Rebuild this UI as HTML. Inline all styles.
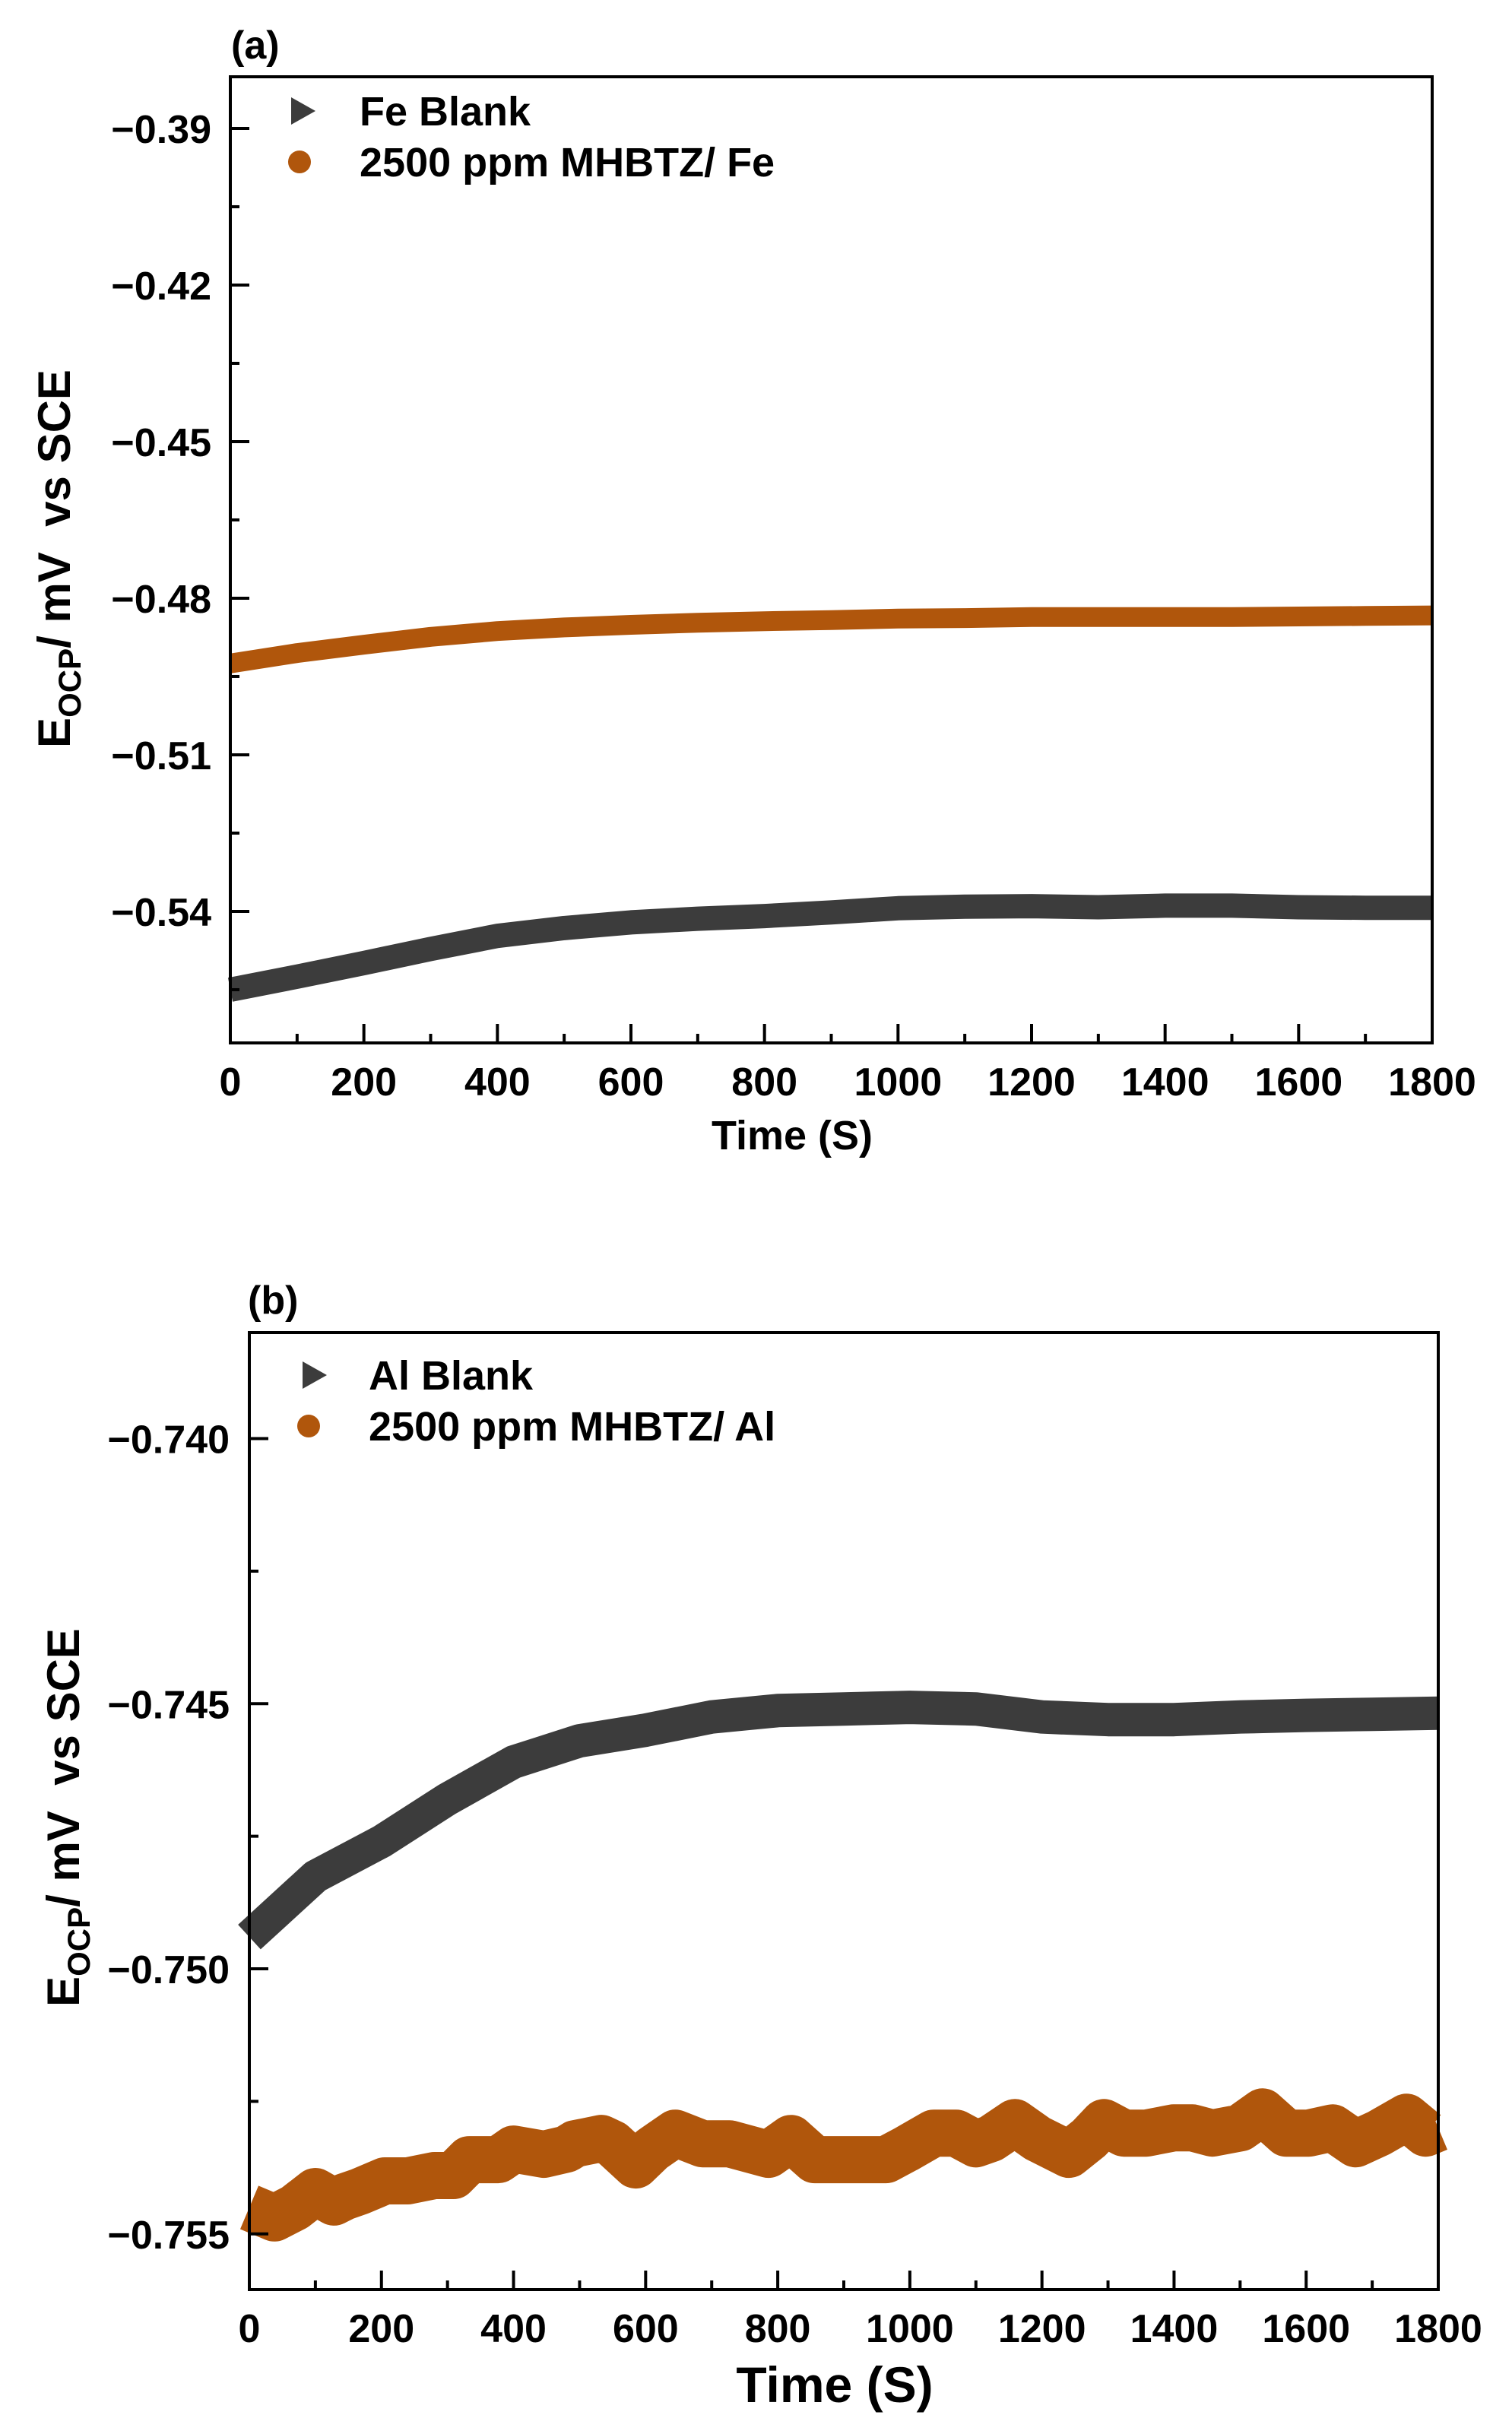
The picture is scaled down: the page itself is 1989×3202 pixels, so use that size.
<!DOCTYPE html>
<html><head><meta charset="utf-8">
<style>
html,body{margin:0;padding:0;background:#fff;}
svg{display:block;font-family:"Liberation Sans",Arial,sans-serif;font-weight:bold;}
</style></head>
<body>
<svg id="chart" width="1989" height="3202" viewBox="0 0 1989 3202" xmlns="http://www.w3.org/2000/svg">
<g id="panelA"></g>
<g id="panelB"></g>
</svg>
<script>
// ---- Panel (a) data ----
const aTimes = [0,100,200,300,400,500,600,700,800,900,1000,1100,1200,1300,1400,1500,1600,1700,1800];
const aFeBlank = [-0.5550,-0.5525,-0.5499,-0.5472,-0.5447,-0.5432,-0.5421,-0.5414,-0.5409,-0.5402,-0.5394,-0.5391,-0.5390,-0.5392,-0.5389,-0.5389,-0.5392,-0.5393,-0.5393];
const aFeInhib = [-0.4925,-0.4905,-0.4889,-0.4874,-0.4863,-0.4856,-0.4851,-0.4847,-0.4844,-0.4842,-0.4839,-0.4838,-0.4836,-0.4836,-0.4836,-0.4836,-0.4835,-0.4834,-0.4833];
const aYTicks = [-0.39,-0.42,-0.45,-0.48,-0.51,-0.54];
const aYLabels = ["\u22120.39","\u22120.42","\u22120.45","\u22120.48","\u22120.51","\u22120.54"];
const xTicks = [0,200,400,600,800,1000,1200,1400,1600,1800];
const xLabels = ["0","200","400","600","800","1000","1200","1400","1600","1800"];

// ---- Panel (b) data ----
const bTimes = [0,100,200,300,400,500,600,700,800,900,1000,1100,1200,1300,1400,1500,1600,1700,1800];
const bAlBlank = [-0.7494,-0.74826,-0.7476,-0.7468,-0.7461,-0.7457,-0.7455,-0.74525,-0.74513,-0.7451,-0.74507,-0.7451,-0.74525,-0.7453,-0.7453,-0.74525,-0.74522,-0.7452,-0.74518];
const bInhTimes = [0,38,69,100,128,144,167,205,240,280,309,333,377,400,446,480,493,533,550,585,610,645,686,727,786,820,856,888,924,964,994,1036,1070,1100,1123,1159,1193,1241,1271,1294,1324,1358,1399,1428,1458,1500,1534,1570,1604,1640,1675,1710,1752,1781,1800];
const bAlInhib = [-0.7545,-0.7547,-0.7545,-0.7542,-0.7544,-0.7543,-0.7542,-0.7540,-0.7540,-0.7539,-0.7539,-0.7536,-0.7536,-0.7534,-0.7535,-0.7534,-0.7533,-0.7532,-0.7533,-0.7537,-0.7534,-0.7531,-0.7533,-0.7533,-0.7535,-0.7532,-0.7536,-0.7536,-0.7536,-0.7536,-0.7534,-0.7531,-0.7531,-0.7533,-0.7532,-0.7529,-0.7532,-0.7535,-0.7532,-0.7529,-0.7531,-0.7531,-0.7530,-0.7530,-0.7531,-0.7530,-0.7527,-0.7531,-0.7531,-0.7530,-0.7533,-0.7531,-0.7528,-0.7531,-0.7530];
const bYTicks = [-0.740,-0.745,-0.750,-0.755];
const bYLabels = ["\u22120.740","\u22120.745","\u22120.750","\u22120.755"];

const NS = "http://www.w3.org/2000/svg";
function mk(tag, attrs, parent){
  const e = document.createElementNS(NS, tag);
  for (const k in attrs) e.setAttribute(k, attrs[k]);
  parent.appendChild(e);
  return e;
}

function drawPanel(g, cfg){
  const {L,R,T,B,ymin,ymax,yTicks,yLabels,yMinorStep,labelRight,tickFont,xLabelBase,xTitleBase,xTitleFont,xTitleX,yTitleX,yTitleY,series,legend,panelLabel} = cfg;
  const sx = t => L + (t - 0) / 1800 * (R - L);
  const sy = v => T + (ymax - v) / (ymax - ymin) * (B - T);

  series.forEach(s => {
    const pts = s.t.map((t,i) => sx(t).toFixed(1) + "," + sy(s.v[i]).toFixed(1)).join(" ");
    const pl = mk("polyline", {points: pts, fill: "none", stroke: s.color, "stroke-width": s.w, "stroke-linejoin": "round", "stroke-linecap": "butt"}, g);
    
    
  });

  const fr = mk("rect", {x: L, y: T, width: R - L, height: B - T, fill: "none", stroke: "#000", "stroke-width": 4}, g);
  
  

  for (let t = 0; t <= 1800; t += 100) {
    const major = t % 200 === 0;
    const tk = mk("line", {x1: sx(t), x2: sx(t), y1: B, y2: B - (major ? 25 : 12), stroke: "#000", "stroke-width": 4}, g);
    
    
  }
  xTicks.forEach((t,i) => {
    const tx = mk("text", {x: sx(t), y: xLabelBase, "text-anchor": "middle", "font-size": tickFont}, g);
    tx.textContent = xLabels[i];
    
    
  });
  const y0 = yTicks[yTicks.length - 1];
  for (let v = y0 - 4*yMinorStep; v <= ymax + 1e-9; v += yMinorStep) {
    if (v < ymin - 1e-9) continue;
    const k = Math.round((v - y0) / yMinorStep);
    const major = k % 2 === 0;
    const tk = mk("line", {x1: L, x2: L + (major ? 25 : 12), y1: sy(v), y2: sy(v), stroke: "#000", "stroke-width": 4}, g);
    
    
  }
  yTicks.forEach((v,i) => {
    const tx = mk("text", {x: labelRight, y: sy(v) + 19, "text-anchor": "end", "font-size": tickFont}, g);
    tx.textContent = yLabels[i];
    
    
  });

  const xt = mk("text", {x: xTitleX, y: xTitleBase, "text-anchor": "middle", "font-size": xTitleFont}, g);
  xt.textContent = "Time (S)";
  
  

  const yt = mk("text", {x: 0, y: 0, "text-anchor": "middle", "font-size": 60, transform: `translate(${yTitleX},${yTitleY}) rotate(-90)`}, g);
  
  
  const t1 = mk("tspan", {}, yt); t1.textContent = "E";
  const t2 = mk("tspan", {dy: 14, "font-size": 42}, yt); t2.textContent = "OCP";
  const t3 = mk("tspan", {dy: -14}, yt); t3.textContent = "/ mV\u00a0 vs SCE";

  const pl = mk("text", {x: panelLabel.x, y: panelLabel.y, "font-size": 52}, g);
  pl.textContent = panelLabel.text;
  
  

  legend.forEach((lg, i) => {
    const gi = mk("g", {}, g);
    
    
    if (lg.shape === "tri") {
      mk("polygon", {points: `${lg.mx-16},${lg.my-18} ${lg.mx+16},${lg.my} ${lg.mx-16},${lg.my+18}`, fill: lg.color}, gi);
    } else {
      mk("circle", {cx: lg.mx, cy: lg.my, r: 15, fill: lg.color}, gi);
    }
    const tx = mk("text", {x: lg.tx, y: lg.my + 19, "font-size": 54}, gi);
    tx.textContent = lg.text;
  });
}

drawPanel(document.getElementById("panelA"), {
  L: 303, R: 1884, T: 101, B: 1372, ymin: -0.5652, ymax: -0.3801,
  yTicks: aYTicks, yLabels: aYLabels, yMinorStep: 0.015, labelRight: 278, tickFont: 52,
  xLabelBase: 1441, xTitleBase: 1512, xTitleFont: 54, xTitleX: 1042,
  yTitleX: 92, yTitleY: 735,
  series: [
    {t: aTimes, v: aFeBlank, color: "#3c3c3c", w: 32, name: "fe-blank-series"},
    {t: aTimes, v: aFeInhib, color: "#b0560c", w: 26, name: "mhbtz-fe-series"}
  ],
  legend: [
    {shape: "tri", mx: 399, my: 146, color: "#3c3c3c", tx: 473, text: "Fe Blank"},
    {shape: "circ", mx: 394, my: 213, color: "#b0560c", tx: 473, text: "2500 ppm MHBTZ/ Fe"}
  ],
  panelLabel: {x: 304, y: 77, text: "(a)"}
});

drawPanel(document.getElementById("panelB"), {
  L: 328, R: 1892, T: 1753, B: 3012, ymin: -0.75605, ymax: -0.7380,
  yTicks: bYTicks, yLabels: bYLabels, yMinorStep: 0.0025, labelRight: 302, tickFont: 52,
  xLabelBase: 3081, xTitleBase: 3160, xTitleFont: 66, xTitleX: 1098,
  yTitleX: 104, yTitleY: 2391,
  series: [
    {t: bTimes, v: bAlBlank, color: "#3c3c3c", w: 44, name: "al-blank-series"},
    {t: bInhTimes, v: bAlInhib, color: "#b0560c", w: 62, name: "mhbtz-al-series"}
  ],
  legend: [
    {shape: "tri", mx: 414, my: 1809, color: "#3c3c3c", tx: 485, text: "Al Blank"},
    {shape: "circ", mx: 406, my: 1876, color: "#b0560c", tx: 485, text: "2500 ppm MHBTZ/ Al"}
  ],
  panelLabel: {x: 326, y: 1728, text: "(b)"}
});
</script>
</body></html>
